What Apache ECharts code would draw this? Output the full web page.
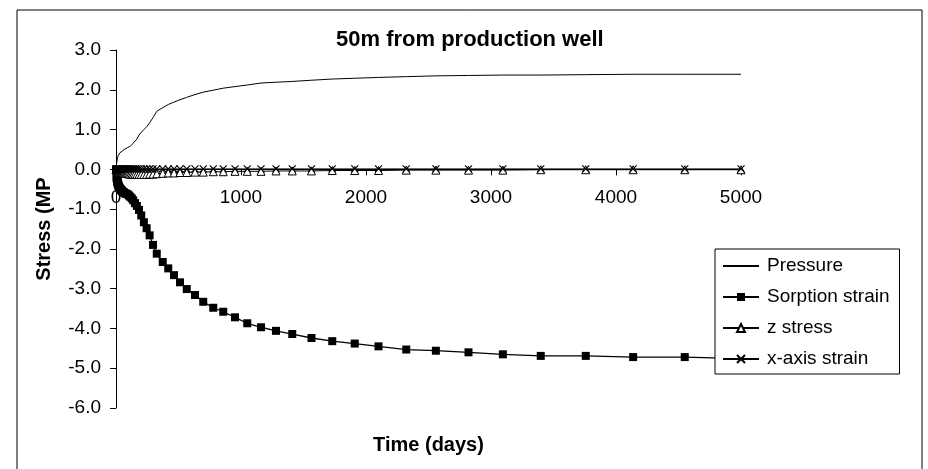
<!DOCTYPE html>
<html><head><meta charset="utf-8">
<script src="https://cdn.jsdelivr.net/npm/echarts@6/dist/echarts.min.js"></script>
<style>html,body{margin:0;padding:0;background:#fff}#c{width:928px;height:469px}</style>
</head><body><div id="c"></div>
<script>
// ---- data ----
const titleText = '50m from production well';
const xName = 'Time (days)';
const yName = 'Stress (MPa)';
const seriesNames = ['Pressure', 'Sorption strain', 'z stress', 'x-axis strain'];

const times = [0,5,6,7,8,9,10,11,12,
  14,15,17,18,20,22,25,27,30,
  33,36,40,44,48,53,58,64,71,
  78,86,94,104,114,126,138,152,167,
  184,202,223,245,269,296,326,374,418,
  464,512,566,632,698,778,858,952,1050,
  1160,1280,1410,1564,1730,1910,2100,2322,2559,
  2820,3095,3398,3758,4137,4550,5000];

const pressure = [0,0.15,0.17,0.19,0.21,0.23,0.25,0.27,0.28,
  0.31,0.32,0.34,0.35,0.37,0.38,0.39,0.40,0.41,
  0.42,0.43,0.44,0.45,0.46,0.47,0.48,0.49,0.51,
  0.52,0.54,0.55,0.56,0.58,0.62,0.66,0.70,0.76,
  0.86,0.93,1.00,1.07,1.17,1.30,1.46,1.55,1.63,
  1.69,1.75,1.81,1.88,1.94,1.99,2.04,2.08,2.12,
  2.17,2.19,2.21,2.24,2.27,2.29,2.31,2.33,2.35,
  2.36,2.37,2.37,2.38,2.39,2.39,2.39];

const sorption = [0,-0.20,-0.22,-0.24,-0.26,-0.28,-0.30,-0.31,-0.32,
  -0.35,-0.36,-0.38,-0.39,-0.41,-0.43,-0.45,-0.46,-0.48,
  -0.49,-0.50,-0.52,-0.53,-0.54,-0.56,-0.57,-0.58,-0.60,
  -0.61,-0.62,-0.63,-0.66,-0.69,-0.73,-0.78,-0.85,-0.92,
  -1.02,-1.16,-1.33,-1.48,-1.66,-1.90,-2.12,-2.33,-2.49,
  -2.66,-2.84,-3.01,-3.16,-3.33,-3.48,-3.58,-3.72,-3.87,
  -3.97,-4.06,-4.14,-4.24,-4.32,-4.38,-4.45,-4.53,-4.56,
  -4.60,-4.65,-4.69,-4.69,-4.72,-4.72,-4.76];

const zStress = [0,-0.01,-0.01,-0.02,-0.02,-0.02,-0.03,-0.03,-0.03,
  -0.04,-0.04,-0.04,-0.05,-0.05,-0.05,-0.06,-0.06,-0.06,
  -0.07,-0.07,-0.07,-0.08,-0.08,-0.08,-0.09,-0.09,-0.10,
  -0.10,-0.10,-0.11,-0.11,-0.12,-0.12,-0.12,-0.12,-0.13,
  -0.13,-0.13,-0.13,-0.13,-0.12,-0.12,-0.11,-0.10,-0.09,
  -0.09,-0.08,-0.08,-0.07,-0.07,-0.06,-0.06,-0.05,-0.05,
  -0.05,-0.04,-0.04,-0.04,-0.03,-0.03,-0.03,-0.02,-0.02,
  -0.02,-0.02,-0.01,-0.01,-0.01,-0.01,-0.01];

const xStrain = [0,0,0,0,0,0,0,0,0,
  0,0,0,0,0,0,0,0,0,
  0,0,0,0,0.01,0.01,0.01,0.01,0.01,
  0.01,0.01,0.01,0.01,0.01,0.01,0.01,0.01,0.01,
  0.01,0.01,0.01,0.01,0.01,0.01,0.01,0.01,0.01,
  0.01,0.01,0.01,0.01,0.01,0.01,0.01,0.01,0.01,
  0.01,0.01,0.01,0.01,0.01,0.01,0.01,0.01,0.01,
  0.01,0.01,0.01,0.01,0.01,0.01,0.01];

// ---- chart ----
const FONT = "'Liberation Sans', Arial, sans-serif";
const pairs = v => times.map((t, i) => [t, v[i]]);
const xPath = 'path://M0,0L10,10M10,0L0,10';
const Y_MIN = -6, Y_MAX = 3;
const GRID_TOP = 50, GRID_BOTTOM = 61, CHART_H = 469;
const plotH = CHART_H - GRID_TOP - GRID_BOTTOM;
// x axis drawn at y = 0 (Excel "crosses at 0")
const xAxisOffset = -plotH * (0 - Y_MIN) / (Y_MAX - Y_MIN);

const chart = echarts.init(document.getElementById('c'), null, {renderer: 'canvas'});
chart.setOption({
  animation: false,
  backgroundColor: '#fff',
  textStyle: {fontFamily: FONT, color: '#000'},
  title: {
    text: titleText, left: 336, top: 29, padding: 0,
    textStyle: {fontFamily: FONT, fontSize: 22, fontWeight: 'bold', color: '#000'}
  },
  graphic: [{
    type: 'rect', silent: true,
    shape: {x: 17, y: 10, width: 905, height: 470},
    style: {fill: 'none', stroke: '#000', lineWidth: 1}
  }],
  grid: {left: 116, right: 187, top: GRID_TOP, bottom: GRID_BOTTOM, containLabel: false, outerBoundsMode: 'none'},
  legend: {
    orient: 'vertical', left: 715, top: 249,
    backgroundColor: '#fff', borderColor: '#000', borderWidth: 1,
    padding: [7, 10, 5, 7],
    itemWidth: 36, itemHeight: 10, itemGap: 11,
    textStyle: {fontFamily: FONT, fontSize: 19, color: '#000', lineHeight: 20, padding: [0, 0, 0, 3]},
    data: [{name: seriesNames[0], itemStyle: {opacity: 0}}, seriesNames[1], seriesNames[2], seriesNames[3]]
  },
  xAxis: {
    type: 'value', min: 0, max: 5000, interval: 1000,
    offset: xAxisOffset,
    name: xName, nameLocation: 'middle', nameGap: 266,
    nameTextStyle: {fontFamily: FONT, fontSize: 20, fontWeight: 'bold', color: '#000'},
    axisLine: {show: true, onZero: false, lineStyle: {color: '#000', width: 1}},
    axisTick: {show: true, length: 6, lineStyle: {color: '#000'}},
    axisLabel: {fontFamily: FONT, fontSize: 19, color: '#000', margin: 19, formatter: v => String(v)},
    splitLine: {show: false}
  },
  yAxis: {
    type: 'value', min: Y_MIN, max: Y_MAX, interval: 1,
    name: yName, nameLocation: 'middle', nameGap: 62, nameRotate: 90,
    nameTruncate: {maxWidth: 106, ellipsis: ''},
    nameTextStyle: {fontFamily: FONT, fontSize: 20, fontWeight: 'bold', color: '#000'},
    axisLine: {show: true, lineStyle: {color: '#000', width: 1}},
    axisTick: {show: true, length: 6, lineStyle: {color: '#000'}},
    axisLabel: {fontFamily: FONT, fontSize: 19, color: '#000', margin: 15, formatter: v => v.toFixed(1)},
    splitLine: {show: false}
  },
  series: [
    {name: seriesNames[0], type: 'line', data: pairs(pressure), symbol: 'none',
     lineStyle: {color: '#000', width: 1}, itemStyle: {color: '#000'}},
    {name: seriesNames[1], type: 'line', data: pairs(sorption), symbol: 'rect', symbolSize: 8,
     lineStyle: {color: '#000', width: 1.3}, itemStyle: {color: '#000'}},
    {name: seriesNames[2], type: 'line', data: pairs(zStress), symbol: 'triangle', symbolSize: 8,
     lineStyle: {color: '#000', width: 1}, itemStyle: {color: '#fff', borderColor: '#000', borderWidth: 1}},
    {name: seriesNames[3], type: 'line', data: pairs(xStrain), symbol: xPath, symbolSize: 7,
     lineStyle: {color: '#000', width: 1}, itemStyle: {color: '#000', borderColor: '#000', borderWidth: 1.2}}
  ]
});
</script>
</body></html>
